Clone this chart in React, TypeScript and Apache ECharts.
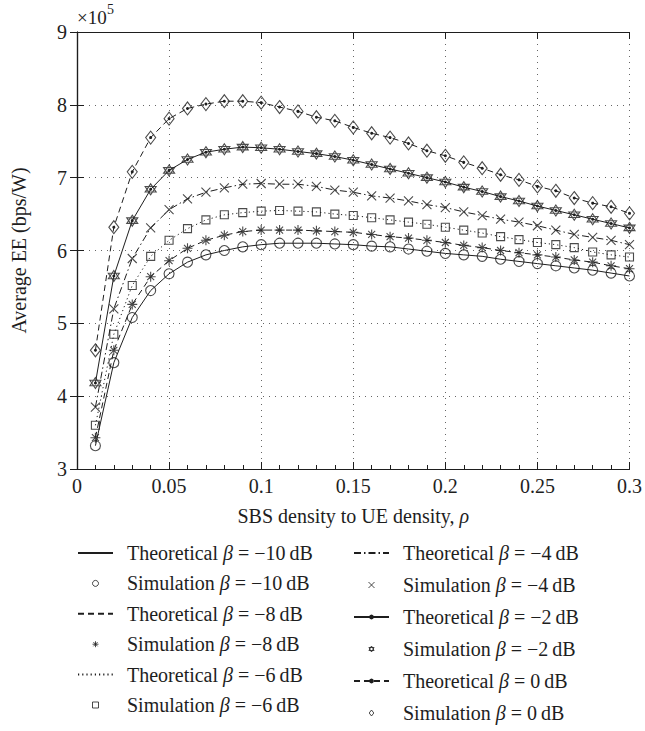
import React, { useEffect, useRef } from "react";
import * as echarts from "echarts";

// SBS density to UE density (x values)
const rho = [
  0.01, 0.02, 0.03, 0.04, 0.05, 0.06, 0.07, 0.08, 0.09, 0.1,
  0.11, 0.12, 0.13, 0.14, 0.15, 0.16, 0.17, 0.18, 0.19, 0.2,
  0.21, 0.22, 0.23, 0.24, 0.25, 0.26, 0.27, 0.28, 0.29, 0.3,
];

// Average EE, in units of 1e5 bps/W
const eeBetaM10 = [
  3.32, 4.46, 5.08, 5.45, 5.68, 5.84, 5.94, 6.0, 6.05, 6.08,
  6.1, 6.1, 6.1, 6.09, 6.08, 6.06, 6.05, 6.02, 5.99, 5.96,
  5.94, 5.92, 5.88, 5.85, 5.82, 5.79, 5.76, 5.73, 5.69, 5.65,
];
const eeBetaM8 = [
  3.43, 4.63, 5.26, 5.64, 5.86, 6.03, 6.14, 6.21, 6.26, 6.28,
  6.28, 6.28, 6.27, 6.26, 6.25, 6.22, 6.19, 6.17, 6.14, 6.11,
  6.07, 6.04, 6.0, 5.97, 5.94, 5.91, 5.87, 5.84, 5.79, 5.75,
];
const eeBetaM6 = [
  3.6, 4.85, 5.52, 5.92, 6.14, 6.3, 6.42, 6.49, 6.52, 6.54,
  6.55, 6.54, 6.53, 6.5, 6.48, 6.45, 6.42, 6.39, 6.36, 6.32,
  6.28, 6.24, 6.19, 6.15, 6.11, 6.08, 6.04, 5.98, 5.94, 5.91,
];
const eeBetaM4 = [
  3.85, 5.2, 5.89, 6.31, 6.56, 6.71, 6.8, 6.86, 6.91, 6.92,
  6.91, 6.91, 6.88, 6.83, 6.8, 6.75, 6.72, 6.68, 6.63, 6.59,
  6.53, 6.48, 6.43, 6.39, 6.34, 6.28, 6.22, 6.18, 6.14, 6.08,
];
const eeBetaM2 = [
  4.18, 5.65, 6.41, 6.84, 7.1, 7.25, 7.35, 7.39, 7.42, 7.41,
  7.39, 7.36, 7.33, 7.29, 7.24, 7.18, 7.12, 7.06, 7.0, 6.94,
  6.87, 6.81, 6.74, 6.68, 6.61, 6.55, 6.49, 6.43, 6.37, 6.31,
];
const eeBeta0 = [
  4.63, 6.32, 7.08, 7.55, 7.81, 7.95, 8.01, 8.05, 8.05, 8.03,
  7.97, 7.91, 7.83, 7.78, 7.69, 7.61, 7.55, 7.47, 7.37, 7.3,
  7.21, 7.13, 7.04, 6.97, 6.88, 6.82, 6.72, 6.65, 6.6, 6.51,
];

const betaLabels = ["−10", "−8", "−6", "−4", "−2", "0"];
const xTickLabels = ["0", "0.05", "0.1", "0.15", "0.2", "0.25", "0.3"];
const yTickLabels = ["3", "4", "5", "6", "7", "8", "9"];

const SERIF = '"Liberation Serif", "DejaVu Serif", serif';
const INK = "#1e1e1e";

const CIRCLE = "circle";
const ASTERISK = "path://M5,0L5,10M0,5L10,5M1.5,1.5L8.5,8.5M8.5,1.5L1.5,8.5";
const SQUARE = "path://M0,0L10,0L10,10L0,10Z";
const CROSS = "path://M0,0L10,10M10,0L0,10";
const HEXAGRAM = "path://M5,0L9.33,7.5L0.67,7.5Z M5,10L0.67,2.5L9.33,2.5Z";
const DIAMOND = "path://M5,0L10,6.5L5,13L0,6.5Z";

const curveData = [eeBetaM10, eeBetaM8, eeBetaM6, eeBetaM4, eeBetaM2, eeBeta0];
const curveStyles = [
  { dash: "solid", lineSym: "none", sim: CIRCLE, simSize: [10, 10] },
  { dash: [6, 4], lineSym: "none", sim: ASTERISK, simSize: [10, 10] },
  { dash: [1.2, 3], lineSym: "none", sim: SQUARE, simSize: [8, 8] },
  { dash: [7, 3, 1.5, 3], lineSym: "none", sim: CROSS, simSize: [9, 9] },
  { dash: "solid", lineSym: "circle", sim: HEXAGRAM, simSize: [11, 11] },
  { dash: [6, 4], lineSym: "circle", sim: DIAMOND, simSize: [10, 13] },
];

const theoName = (b: string) => `Theoretical β = ${b}\u2009dB`;
const simName = (b: string) => `Simulation β = ${b}\u2009dB`;

const hollow = { color: "rgba(255,255,255,0)", borderColor: INK, borderWidth: 1.1 };

function buildOption() {
  const series: any[] = [];
  const legendItems: any[] = [];
  betaLabels.forEach((b, k) => {
    const st = curveStyles[k];
    const pts = rho.map((x, i) => [x, curveData[k][i]]);
    series.push({
      name: theoName(b),
      type: "line",
      data: pts,
      symbol: st.lineSym,
      symbolSize: 3,
      showSymbol: st.lineSym !== "none",
      itemStyle: { color: INK },
      lineStyle: { color: INK, width: 1, type: st.dash as any },
      z: 2,
    });
    series.push({
      name: simName(b),
      type: "scatter",
      data: pts,
      symbol: st.sim,
      symbolSize: st.simSize,
      itemStyle: hollow,
      z: 3,
    });
    legendItems.push({
      name: theoName(b),
      itemStyle: st.lineSym === "none" ? { opacity: 0 } : { color: INK, opacity: 1 },
    });
    legendItems.push({
      name: simName(b),
      icon: st.sim,
      itemStyle: { ...hollow, borderWidth: 1 },
    });
  });

  const legendBase = {
    orient: "vertical",
    itemWidth: 35,
    itemHeight: 6,
    symbolKeepAspect: true,
    textStyle: {
      fontFamily: SERIF,
      fontSize: 20,
      color: INK,
      rich: {
        p: { width: 9, fontFamily: SERIF, fontSize: 20 },
        t: { fontFamily: SERIF, fontSize: 20, color: INK },
        g: { fontFamily: SERIF, fontSize: 20, color: INK, fontStyle: "italic" },
      },
    },
    formatter: (name: string) => {
      const m = name.match(/^(\S+) β = (.+)$/);
      if (!m) return name;
      return `{p| }{t|${m[1]} }{g|β}{t| = ${m[2]}}`;
    },
    selectedMode: false,
  };

  return {
    animation: false,
    backgroundColor: "#fff",
    grid: { left: 77, right: 13, top: 32, bottom: 262, containLabel: false },
    xAxis: [
      {
        type: "value",
        min: 0,
        max: 0.3,
        interval: 0.05,
        position: "bottom",
        name: "SBS density to UE density, {i|ρ}",
        nameLocation: "middle",
        nameGap: 37,
        nameTextStyle: {
          fontFamily: SERIF,
          fontSize: 20,
          color: INK,
          rich: { i: { fontFamily: SERIF, fontSize: 20, color: INK, fontStyle: "italic" } },
        },
        axisLine: { show: true, lineStyle: { color: INK, width: 1.2 } },
        axisTick: { show: true, inside: true, length: 7, lineStyle: { color: INK } },
        minorTick: { show: true, splitNumber: 5, length: 4, lineStyle: { color: INK } },
        axisLabel: {
          fontFamily: SERIF,
          fontSize: 20,
          color: INK,
          margin: 7,
          formatter: (v: number) => xTickLabels[Math.round(v / 0.05)] ?? "",
        },
        splitLine: { show: true, lineStyle: { color: "#666", width: 1, type: [1, 5] } },
      },
      {
        type: "value",
        min: 0,
        max: 0.3,
        interval: 0.05,
        position: "top",
        axisLine: { show: true, lineStyle: { color: INK, width: 1.2 } },
        axisTick: { show: true, inside: true, length: 7, lineStyle: { color: INK } },
        axisLabel: { show: false },
        splitLine: { show: false },
      },
    ],
    yAxis: [
      {
        type: "value",
        min: 3,
        max: 9,
        interval: 1,
        position: "left",
        name: "Average EE (bps/W)",
        nameLocation: "middle",
        nameGap: 48,
        nameTextStyle: { fontFamily: SERIF, fontSize: 20, color: INK },
        axisLine: { show: true, lineStyle: { color: INK, width: 1.2 } },
        axisTick: { show: true, inside: true, length: 7, lineStyle: { color: INK } },
        axisLabel: {
          fontFamily: SERIF,
          fontSize: 20,
          color: INK,
          margin: 10,
          formatter: (v: number) => yTickLabels[Math.round(v - 3)] ?? "",
        },
        splitLine: { show: true, lineStyle: { color: "#666", width: 1, type: [1, 5] } },
      },
      {
        type: "value",
        min: 3,
        max: 9,
        interval: 1,
        position: "right",
        axisLine: { show: true, lineStyle: { color: INK, width: 1.2 } },
        axisTick: { show: true, inside: true, length: 7, lineStyle: { color: INK } },
        axisLabel: { show: false },
        splitLine: { show: false },
      },
    ],
    legend: [
      { ...legendBase, left: 72, top: 538, itemGap: 10.4, data: legendItems.slice(0, 6) },
      { ...legendBase, left: 348, top: 538, itemGap: 12, data: legendItems.slice(6) },
    ],
    graphic: [
      {
        type: "text",
        left: 77,
        top: 8,
        style: { text: "×10", fontFamily: SERIF, fontSize: 19, fill: INK },
      },
      {
        type: "text",
        left: 107,
        top: 2,
        style: { text: "5", fontFamily: SERIF, fontSize: 14, fill: INK },
      },
    ],
    series,
  };
}

export default function App() {
  const ref = useRef<HTMLDivElement>(null);
  useEffect(() => {
    if (!ref.current) return;
    const chart = echarts.init(ref.current, undefined, { renderer: "svg" });
    chart.setOption(buildOption() as any);
    return () => chart.dispose();
  }, []);
  return (
    <div
      ref={ref}
      style={{ position: "fixed", left: 0, top: 0, width: 645, height: 731, background: "#fff" }}
    />
  );
}
